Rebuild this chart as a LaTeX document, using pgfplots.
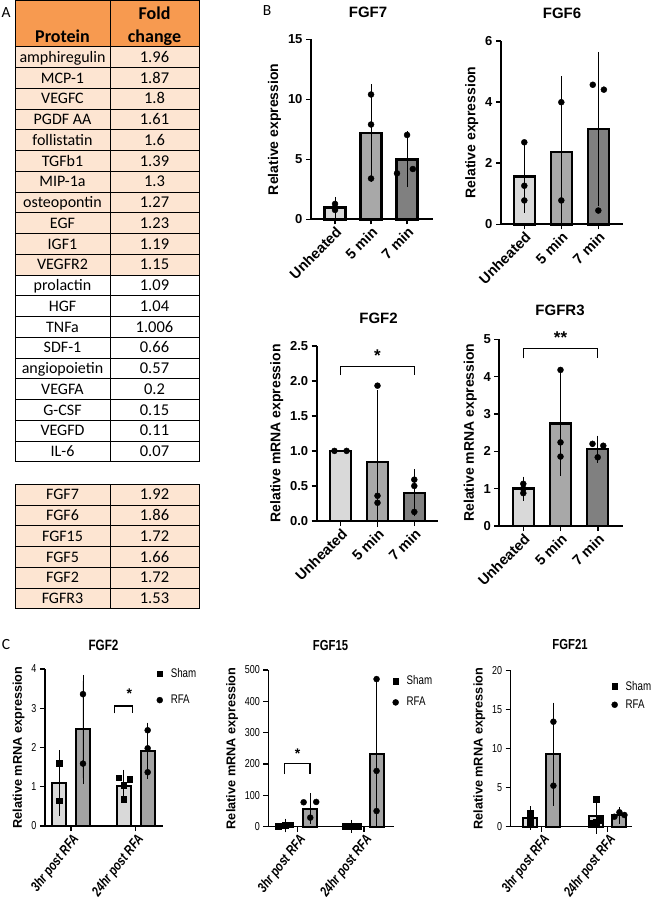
\documentclass[border=0pt]{standalone}
\usepackage{pgfplots}
\pgfplotsset{compat=1.18}
\usepackage{fontspec}
\setmainfont{Liberation Sans}
\newfontfamily\narrowfont[FakeStretch=0.78]{Liberation Sans}
\newfontfamily\calibri{Carlito}
\definecolor{hdr}{HTML}{F79A50}
\definecolor{peach}{HTML}{FDE5D2}
\definecolor{gA}{HTML}{D9D9D9}
\definecolor{gB}{HTML}{A8A8A8}
\definecolor{gC}{HTML}{808080}
\definecolor{cA}{HTML}{D9D9D9}
\definecolor{cB}{HTML}{A3A3A3}

\pgfplotsset{
  panelB/.style={
    scale only axis, anchor=south west,
    axis x line*=bottom, axis y line*=left,
    axis line style={line width=1.8pt, black},
    tick style={line width=1.6pt, black},
    major tick length=5pt,
    tick align=outside,
    ymin=0, clip=false,
    xtick={0,1,2}, xticklabels={Unheated,5 min,7 min},
    xticklabel style={rotate=45, anchor=north east, inner sep=1pt, font=\bfseries\fontsize{14.5}{15}\selectfont},
    yticklabel style={font=\bfseries\fontsize{13}{14}\selectfont},
    ylabel style={font=\bfseries\fontsize{14}{15}\selectfont},
  },
  barB/.style={ybar, bar width=21pt, draw=black, /tikz/line width=2.4pt, fill=#1,
    error bars/y dir=both, error bars/y explicit,
    error bars/error bar style={line width=0.7pt, black},
    error bars/error mark options={mark size=6pt, line width=0.7pt, black}},
  dots/.style={only marks, mark=*, mark size=3pt, black, forget plot},
  sq/.style={only marks, mark=square*, mark size=2.8pt, black, forget plot},
  panelC/.style={
    scale only axis, anchor=south west,
    axis x line*=bottom, axis y line*=left,
    axis line style={line width=1.3pt, black},
    tick style={line width=1.3pt, black},
    major tick length=5pt,
    tick align=outside,
    ymin=0, clip=false,
    xtick={0,1}, xticklabels={3hr post RFA,24hr post RFA},
    xticklabel style={rotate=52, anchor=north east, inner sep=1pt, font=\narrowfont\bfseries\itshape\fontsize{14}{15}\selectfont},
    yticklabel style={font=\narrowfont\fontsize{11.5}{12}\selectfont},
    ylabel style={font=\bfseries\fontsize{12.7}{13}\selectfont},
    ylabel={Relative mRNA expression},
    legend style={draw=none, fill=none, font=\narrowfont\fontsize{12.5}{13}\selectfont, anchor=north west, legend cell align=left, column sep=6pt},
  },
  barC/.style={ybar, bar width=14pt, draw=black, /tikz/line width=2pt, fill=#1,
    error bars/y dir=both, error bars/y explicit,
    error bars/error bar style={line width=0.7pt, black},
    error bars/error mark options={mark size=6pt, line width=0.7pt, black}},
}

\begin{document}
\begin{tikzpicture}
\useasboundingbox (0,0) rectangle (662pt,-902pt);

% ---------------- Panel A: table ----------------
\begin{scope}[x=1pt,y=-1pt]
\node[font=\calibri\fontsize{15.5}{16}\selectfont, anchor=base] at (6,17) {A};
\fill[hdr] (15,0.5) rectangle (199,46.7);
\draw[line width=0.9pt] (15,0.5) rectangle (199,46.7);
\draw[line width=0.9pt] (110,0.5) -- (110,46.7);
\node[font=\calibri\bfseries\fontsize{18}{18}\selectfont, anchor=base] at (62.5,42.5) {Protein};
\node[font=\calibri\bfseries\fontsize{18}{18}\selectfont, anchor=base] at (154.5,19.5) {Fold};
\node[font=\calibri\bfseries\fontsize{18}{18}\selectfont, anchor=base] at (154.5,42.5) {change};
\foreach [count=\i from 0] \n/\v in {amphiregulin/1.96, MCP-1/1.87, VEGFC/1.8, PGDF AA/1.61, follistatin/1.6, TGFb1/1.39, MIP-1a/1.3, osteopontin/1.27, EGF/1.23, IGF1/1.19, VEGFR2/1.15, prolactin/1.09, HGF/1.04, TNFa/1.006, SDF-1/0.66, angiopoietin/0.57, VEGFA/0.2, G-CSF/0.15, VEGFD/0.11, IL-6/0.07} {
  \pgfmathsetmacro\yt{46.7+20.75*\i}
  \pgfmathsetmacro\yb{\yt+20.75}
  \pgfmathsetmacro\ybase{\yt+15.6}
  \ifnum\i<11 \fill[peach] (15,\yt) rectangle (199,\yb); \fi
  \draw[line width=0.9pt] (15,\yt) rectangle (199,\yb);
  \draw[line width=0.9pt] (110,\yt) -- (110,\yb);
  \node[font=\calibri\fontsize{16}{16}\selectfont, anchor=base, inner sep=0pt] at (62.5,\ybase) {\n};
  \node[font=\calibri\fontsize{16.5}{16}\selectfont, anchor=base, inner sep=0pt] at (154.5,\ybase) {\v};
}
\foreach [count=\i from 0] \n/\v in {FGF7/1.92, FGF6/1.86, FGF15/1.72, FGF5/1.66, FGF2/1.72, FGFR3/1.53} {
  \pgfmathsetmacro\yt{484.3+20.75*\i}
  \pgfmathsetmacro\yb{\yt+20.75}
  \pgfmathsetmacro\ybase{\yt+15.6}
  \fill[peach] (15,\yt) rectangle (199,\yb);
  \draw[line width=0.9pt] (15,\yt) rectangle (199,\yb);
  \draw[line width=0.9pt] (110,\yt) -- (110,\yb);
  \node[font=\calibri\fontsize{16}{16}\selectfont, anchor=base, inner sep=0pt] at (62.5,\ybase) {\n};
  \node[font=\calibri\fontsize{16.5}{16}\selectfont, anchor=base, inner sep=0pt] at (154.5,\ybase) {\v};
}
\node[font=\calibri\fontsize{15.5}{16}\selectfont, anchor=base] at (267,16) {B};
\node[font=\calibri\fontsize{15.5}{16}\selectfont, anchor=base] at (6,649) {C};
% titles
\node[font=\bfseries\fontsize{15}{16}\selectfont, anchor=base] at (368,17.3) {FGF7};
\node[font=\bfseries\fontsize{15}{16}\selectfont, anchor=base] at (562,18.3) {FGF6};
\node[font=\bfseries\fontsize{15}{16}\selectfont, anchor=base] at (378.5,323.3) {FGF2};
\node[font=\bfseries\fontsize{15}{16}\selectfont, anchor=base] at (560,315.7) {FGFR3};
\node[font=\narrowfont\bfseries\fontsize{15}{16}\selectfont, anchor=base] at (103.5,650.7) {FGF2};
\node[font=\narrowfont\bfseries\fontsize{14.5}{16}\selectfont, anchor=base] at (330.5,650) {FGF15};
\node[font=\narrowfont\bfseries\fontsize{14.5}{16}\selectfont, anchor=base] at (570,649) {FGF21};
\end{scope}

% ---------------- Panel B ----------------
% FGF7
\begin{axis}[panelB, at={(311pt,-219.3pt)}, width=122pt, height=180pt,
  xmin=-0.667, xmax=2.72, ymax=15,
  ytick={0,5,10,15}, yticklabels={0,5,10,15}, ylabel={Relative expression}]
\addplot[barB=gA] coordinates {(0,1.0) +- (0,0.37)};
\addplot[barB=gB] coordinates {(1,7.2) +- (0,3.55)};
\addplot[barB=gC] coordinates {(2,5.0) +- (0,1.82)};
\addplot[dots] coordinates {(0,1.28) (0,0.78) (0,0.95)};
\addplot[dots] coordinates {(1,10.4) (1,7.9) (1,3.4)};
\addplot[dots] coordinates {(1.72,3.83) (2.16,4.19) (2,7.03)};
\end{axis}

% FGF6
\begin{axis}[panelB, at={(501pt,-224.3pt)}, width=122pt, height=183.6pt,
  xmin=-0.63, xmax=2.667, ymax=6,
  ytick={0,2,4,6}, yticklabels={0,2,4,6}, ylabel={Relative expression}]
\addplot[barB=gA] coordinates {(0,1.56) +- (0,0.99)};
\addplot[barB=gB] coordinates {(1,2.36) +- (0,2.28)};
\addplot[barB=gC] coordinates {(2,3.12) +- (0,2.32)};
\addplot[dots] coordinates {(0,2.68) (0,1.26) (0,0.78)};
\addplot[dots] coordinates {(1,3.99) (1,0.78)};
\addplot[dots] coordinates {(1.85,4.56) (2.15,4.4) (2,0.45)};
\end{axis}

% FGF2 (B)
\begin{axis}[panelB, at={(316.7pt,-521pt)}, width=121pt, height=175.3pt,
  xmin=-0.652, xmax=2.636, ymax=2.5,
  ytick={0,0.5,1,1.5,2,2.5}, yticklabels={0.0,0.5,1.0,1.5,2.0,2.5}, ylabel={Relative mRNA expression}]
\addplot[ybar, bar width=21pt, draw=black, /tikz/line width=2.4pt, fill=gA] coordinates {(0,1.0)};
\addplot[barB=gB] coordinates {(1,0.84) += (0,0.94) -= (0,0.84)};
\addplot[barB=gC] coordinates {(2,0.40) +- (0,0.25)};
\addplot[dots] coordinates {(-0.17,1.0) (0.16,1.0)};
\addplot[dots] coordinates {(1,1.93) (1,0.36) (1,0.26)};
\addplot[dots] coordinates {(2,0.59) (2,0.50) (2,0.13)};
\draw[line width=1.3pt] (axis cs:0,2.08) -- (axis cs:0,2.2) -- (axis cs:2,2.2) -- (axis cs:2,2.08);
\node[font=\bfseries\fontsize{17}{17}\selectfont] at (axis cs:1,2.36) {*};
\end{axis}

% FGFR3
\begin{axis}[panelB, at={(499.3pt,-526pt)}, width=123.7pt, height=186.7pt,
  xmin=-0.645, xmax=2.68, ymax=5,
  ytick={0,1,2,3,4,5}, yticklabels={0,1,2,3,4,5}, ylabel={Relative mRNA expression}]
\addplot[barB=gA] coordinates {(0,1.0) +- (0,0.16)};
\addplot[barB=gB] coordinates {(1,2.75) +- (0,1.25)};
\addplot[barB=gC] coordinates {(2,2.06) +- (0,0.2)};
\addplot[dots] coordinates {(0,1.13) (0,0.88) (0,1.0)};
\addplot[dots] coordinates {(1,4.18) (1,2.24) (1,1.86)};
\addplot[dots] coordinates {(1.86,2.2) (2.15,2.15) (2,1.84)};
\draw[line width=1.3pt] (axis cs:0,4.49) -- (axis cs:0,4.76) -- (axis cs:2,4.76) -- (axis cs:2,4.49);
\node[font=\bfseries\fontsize{17}{17}\selectfont] at (axis cs:1,5.05) {**};
\end{axis}

% ---------------- Panel C ----------------
% FGF2 (C)
\begin{axis}[panelC, at={(45pt,-826pt)}, width=118pt, height=157pt,
  xmin=-0.402, xmax=1.422, ymax=4,
  ytick={0,1,2,3,4}, yticklabels={0,1,2,3,4},
  legend style={at={(0.92,1.03)}, row sep=12pt}]
\addplot[barC=cA, forget plot] coordinates {(-0.185,1.10) +- (0,0.68)};
\addplot[barC=cB, forget plot] coordinates {(0.185,2.46) +- (0,1.24)};
\addplot[barC=cA, forget plot] coordinates {(0.815,1.02) +- (0,0.26)};
\addplot[barC=cB, forget plot] coordinates {(1.185,1.92) +- (0,0.56)};
\addplot[sq] coordinates {(-0.185,1.60) (-0.185,0.64)};
\addplot[dots] coordinates {(0.185,3.36) (0.185,1.59)};
\addplot[sq] coordinates {(0.738,1.23) (0.908,1.20) (0.815,1.04) (0.815,0.68)};
\addplot[dots] coordinates {(1.185,2.44) (1.185,1.98) (1.185,1.37)};
\draw[line width=1.3pt] (axis cs:0.67,2.87) -- (axis cs:0.67,3.06) -- (axis cs:0.955,3.06) -- (axis cs:0.955,2.87);
\node[font=\bfseries\fontsize{14}{14}\selectfont] at (axis cs:0.9,3.38) {*};
\addlegendimage{only marks, mark=square*, mark size=2.8pt, black}
\addlegendentry{Sham}
\addlegendimage{only marks, mark=*, mark size=3pt, black}
\addlegendentry{RFA}
\end{axis}

% FGF15
\begin{axis}[panelC, at={(268.3pt,-826.7pt)}, width=125.7pt, height=156.7pt,
  xmin=-0.443, xmax=1.453, ymax=500,
  ytick={0,100,200,300,400,500}, yticklabels={0,100,200,300,400,500},
  legend style={at={(0.964,0.99)}, row sep=7pt}]
\addplot[barC=cA, forget plot] coordinates {(-0.19,4) +- (0,3)};
\addplot[barC=cB, forget plot] coordinates {(0.19,58) += (0,30) -= (0,30)};
\addplot[barC=cA, forget plot] coordinates {(0.81,1.5) +- (0,1)};
\addplot[barC=cB, forget plot] coordinates {(1.19,231) += (0,218) -= (0,213)};
\addplot[sq] coordinates {(-0.29,2) (-0.19,5) (-0.11,6)};
\addplot[dots] coordinates {(0.09,78) (0.28,79) (0.19,29)};
\addplot[sq] coordinates {(0.71,1) (0.81,2) (0.91,1)};
\addplot[dots] coordinates {(1.19,471) (1.19,178) (1.19,50)};
\draw[line width=1.3pt] (axis cs:-0.2,168) -- (axis cs:-0.2,202) -- (axis cs:0.186,202) -- (axis cs:0.186,168);
\node[font=\bfseries\fontsize{14}{14}\selectfont] at (axis cs:0,232) {*};
\addlegendimage{only marks, mark=square*, mark size=2.8pt, black}
\addlegendentry{Sham}
\addlegendimage{only marks, mark=*, mark size=3pt, black}
\addlegendentry{RFA}
\end{axis}

% FGF21
\begin{axis}[panelC, at={(510.7pt,-826.7pt)}, width=121pt, height=156pt,
  xmin=-0.47, xmax=1.363, ymax=20,
  ytick={0,5,10,15,20}, yticklabels={0,5,10,15,20},
  legend style={at={(0.808,0.96)}, row sep=4pt}]
\addplot[barC=cA, forget plot] coordinates {(-0.177,1.1) +- (0,0.75)};
\addplot[barC=cB, forget plot] coordinates {(0.177,9.3) +- (0,5.85)};
\addplot[barC=cA, forget plot] coordinates {(0.823,1.37) +- (0,1.5)};
\addplot[barC=cB, forget plot] coordinates {(1.177,1.45) +- (0,0.3)};
\addplot[sq] coordinates {(-0.177,1.7) (-0.177,0.6)};
\addplot[dots] coordinates {(0.177,13.46) (0.177,5.26)};
\addplot[sq] coordinates {(0.823,3.55) (0.747,0.5) (0.873,0.85) (0.823,0.6)};
\addplot[dots] coordinates {(1.101,1.28) (1.177,1.85) (1.253,1.5)};
\addlegendimage{only marks, mark=square*, mark size=2.8pt, black}
\addlegendentry{Sham}
\addlegendimage{only marks, mark=*, mark size=3pt, black}
\addlegendentry{RFA}
\end{axis}
\end{tikzpicture}
\end{document}
